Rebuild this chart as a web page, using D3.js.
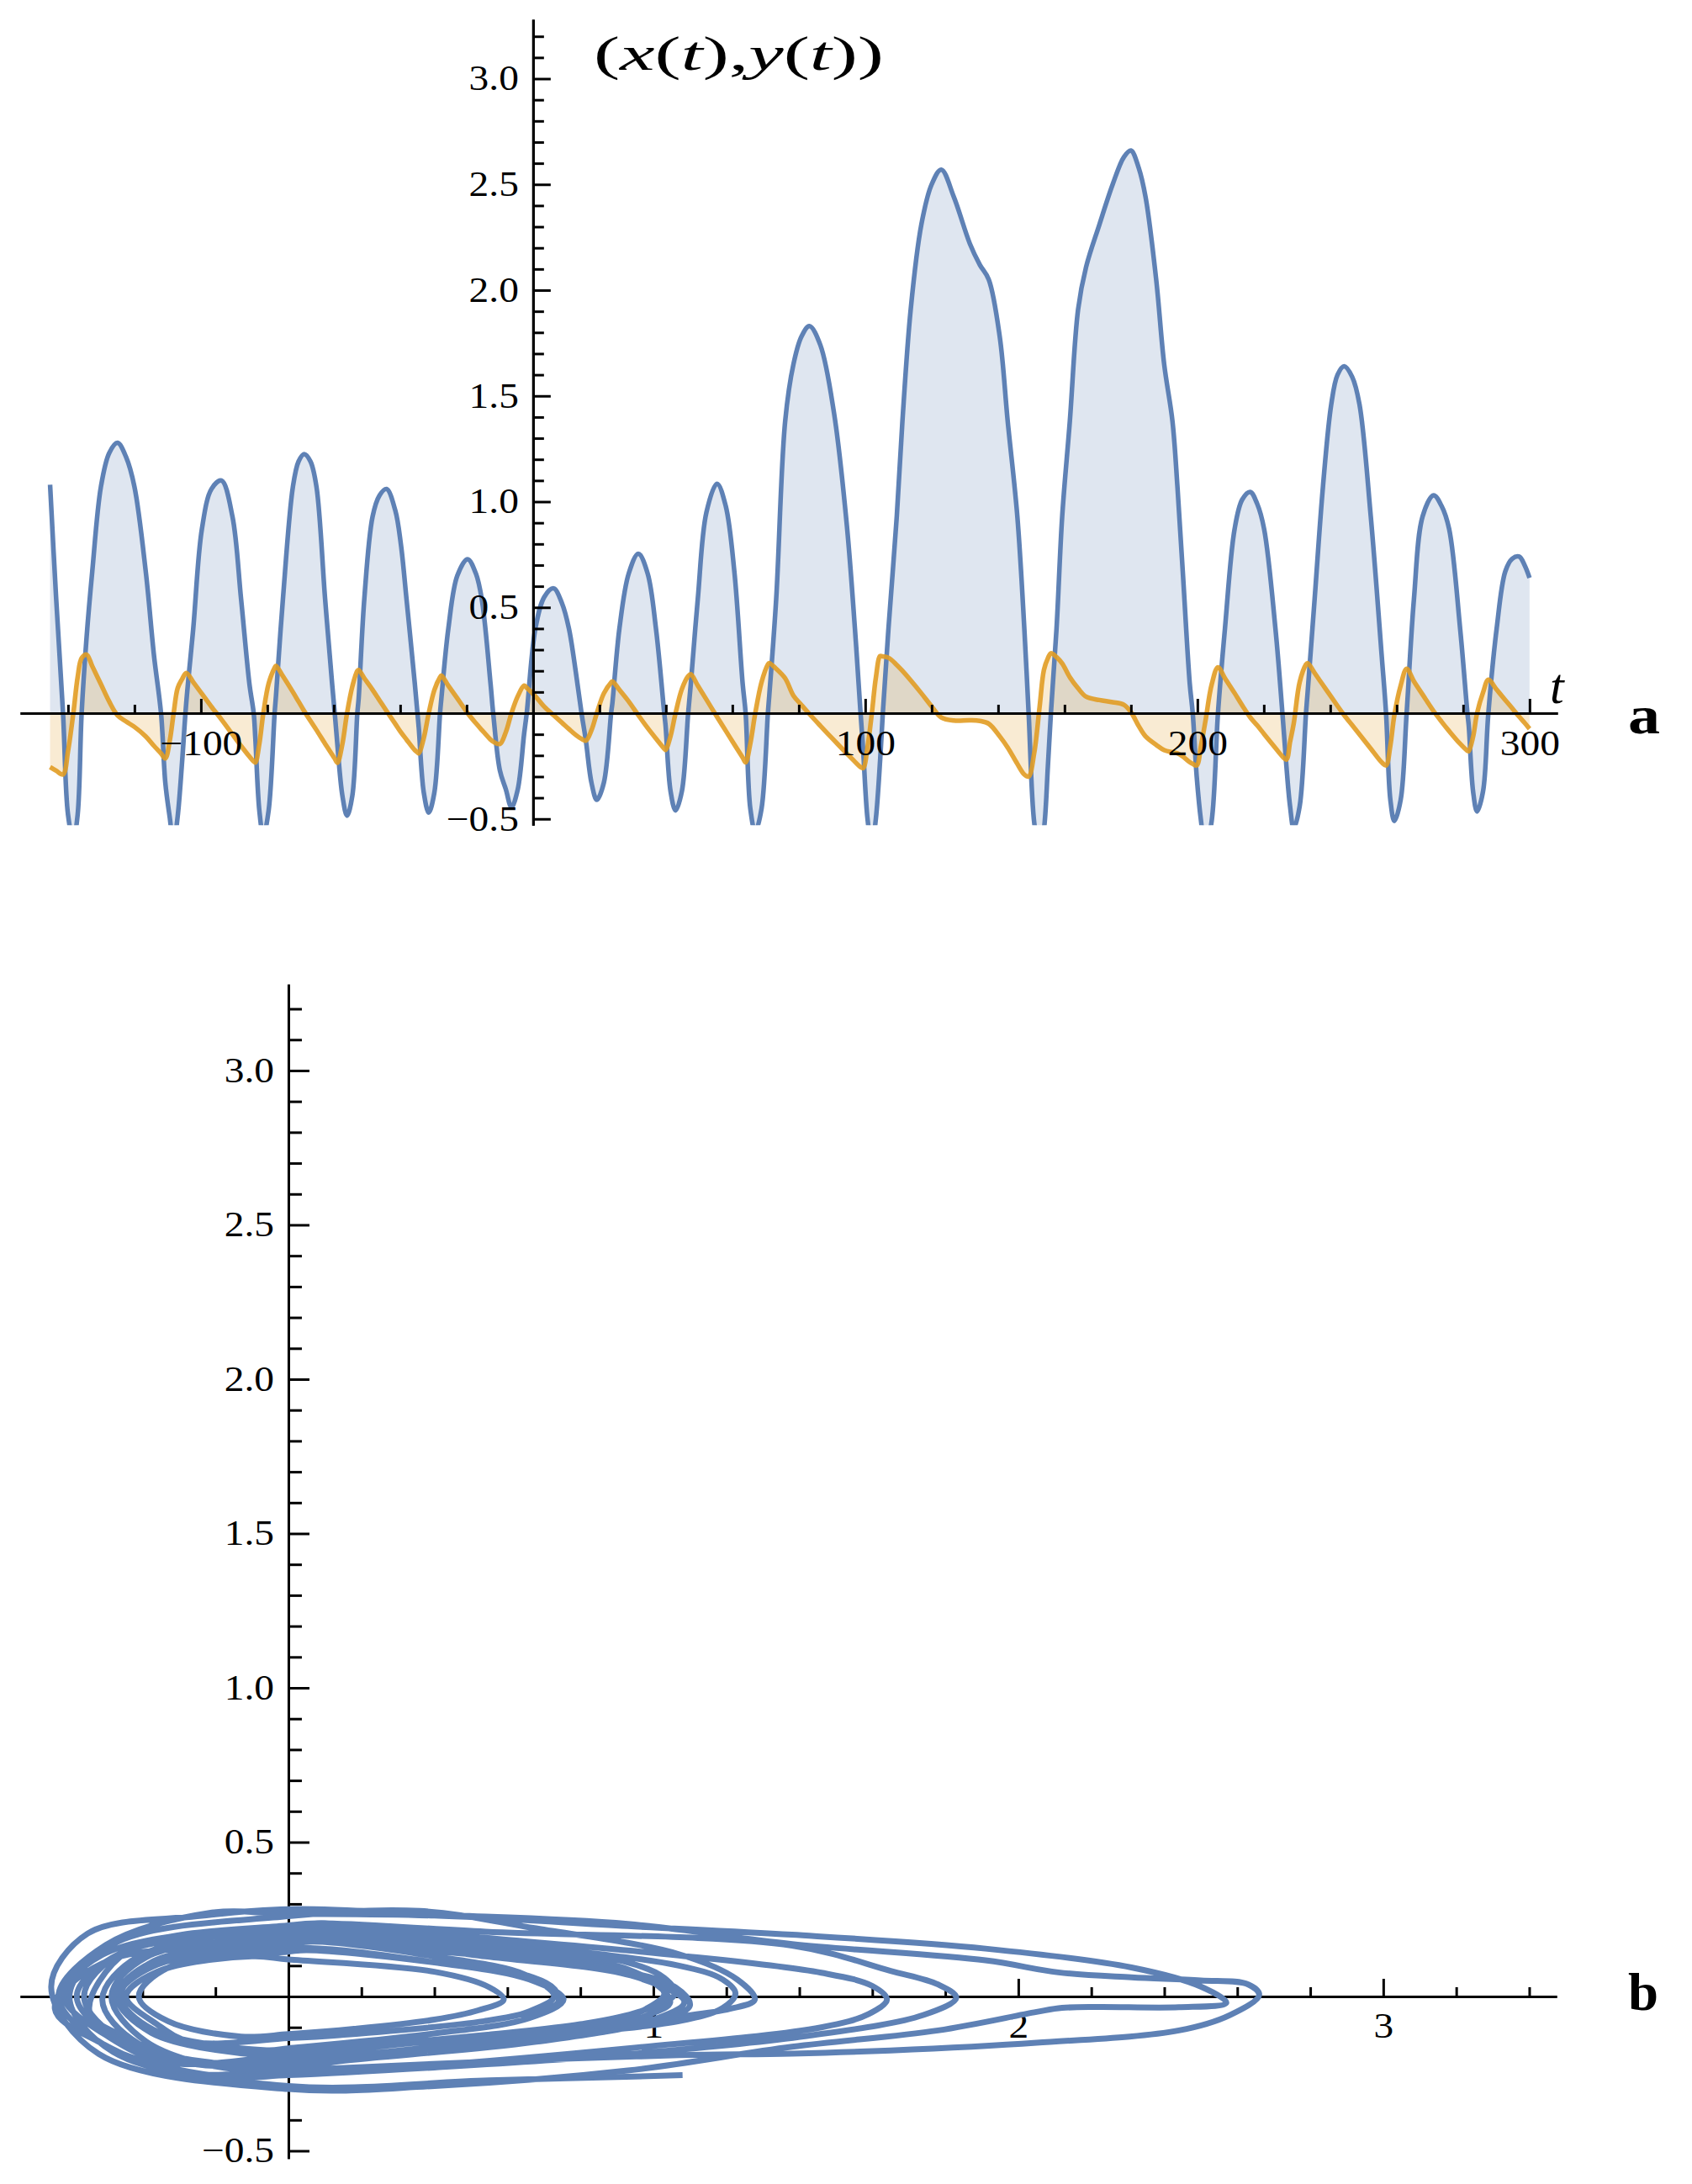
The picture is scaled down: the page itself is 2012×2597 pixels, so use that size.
<!DOCTYPE html>
<html><head><meta charset="utf-8">
<script src="https://cdn.jsdelivr.net/npm/d3@7"></script>
<style>body{margin:0;background:#fff}</style>
</head><body>
<svg id="c" width="2012" height="2597" xmlns="http://www.w3.org/2000/svg"></svg>
<script>
// time samples
const T = [-145.4,-143.6,-141.5,-140.0,-138.4,-137.1,-135.9,-134.4,-132.7,-130.1,-127.6,-125.1,-122.5,-120.0,-116.6,-114.1,-112.0,-110.7,-109.4,
-108.2,-107.0,-105.7,-104.4,-102.3,-99.7,-96.8,-93.8,-90.5,-87.9,-85.4,-84.1,-83.6,-82.4,
-81.2,-79.6,-77.8,-77.4,-75.3,-72.3,-70.6,-68.9,-67.0,-65.2,-62.6,-60.5,-59.7,-58.9,-57.4,
-56.0,-54.4,-52.9,-52.5,-50.8,-48.3,-46.2,-44.1,-41.5,-39.8,-38.1,-35.6,-34.8,-34.4,-32.9,
-31.4,-29.7,-28.0,-27.6,-25.5,-22.8,-19.7,-17.2,-15.4,-12.8,-12.0,-10.0,-8.2,
-6.5,-4.6,-2.7,-1.9,0.7,3.4,6.2,8.7,10.8,13.0,14.6,15.9,17.6,
19.2,21.3,23.5,23.9,26.0,28.8,31.7,34.5,37.0,39.5,39.9,41.4,
42.9,44.8,46.7,47.5,49.6,52.2,55.4,58.0,60.6,63.1,64.0,65.4,
66.9,68.8,70.7,71.1,73.2,75.9,78.4,80.8,83.2,86.5,90.6,94.4,96.9,98.6,99.4,100.7,
102.0,103.2,104.5,105.3,107.0,109.5,111.2,113.7,116.9,120.0,122.9,126.7,131.5,134.5,137.2,140.5,142.9,145.8,147.9,149.2,150.9,
152.5,153.8,155.0,155.9,157.6,159.3,161.6,164.1,166.5,170.5,174.5,177.9,180.0,182.3,184.4,187.6,190.0,192.5,194.0,195.6,197.7,198.6,199.8,201.1,
202.4,204.3,206.2,208.3,211.2,213.5,215.9,218.0,220.1,223.5,225.6,226.8,227.9,
229.0,230.8,232.7,233.2,235.3,237.8,240.3,242.2,244.2,246.6,248.8,252.2,255.5,256.8,258.1,
259.3,261.2,263.0,265.2,267.8,271.1,273.5,275.8,279.1,281.3,281.7,283.0,
284.2,286.0,287.6,290.1,292.7,294.8,296.9,298.5,300.0];
// x(t) (blue)
const X = [1.08,0.55,0.0,-0.48,-0.60,-0.48,0.0,0.36,0.67,1.07,1.23,1.278,1.21,1.07,0.67,0.27,0.0,-0.33,-0.49,
-0.615,-0.49,-0.24,0.05,0.40,0.87,1.06,1.10,0.93,0.54,0.14,0.0,-0.12,-0.46,
-0.58,-0.46,0.0,0.08,0.54,1.07,1.19,1.225,1.19,1.07,0.54,0.14,0.0,-0.15,-0.39,
-0.485,-0.39,0.0,0.07,0.54,0.93,1.03,1.06,0.96,0.80,0.54,0.14,0.0,-0.07,-0.375,
-0.47,-0.375,0.0,0.07,0.40,0.65,0.728,0.66,0.536,0.14,0.0,-0.27,-0.36,
-0.445,-0.36,-0.10,0.0,0.40,0.55,0.59,0.52,0.40,0.18,0.0,-0.13,-0.33,
-0.41,-0.33,0.0,0.05,0.40,0.66,0.754,0.66,0.40,0.0,-0.06,-0.37,
-0.46,-0.37,0.0,0.14,0.54,0.95,1.085,0.98,0.67,0.14,0.0,-0.45,
-0.56,-0.45,0.0,0.08,0.54,1.38,1.65,1.78,1.83,1.74,1.42,0.90,0.40,0.0,-0.18,-0.50,
-0.63,-0.50,-0.22,0.0,0.40,0.93,1.38,1.91,2.31,2.50,2.57,2.44,2.22,2.12,2.05,1.78,1.38,0.93,0.40,0.0,-0.52,
-0.65,-0.55,-0.25,0.0,0.40,0.93,1.38,1.91,2.11,2.31,2.50,2.63,2.66,2.58,2.44,2.05,1.65,1.38,1.07,0.67,0.14,0.0,-0.30,-0.51,
-0.64,-0.51,0.0,0.40,0.87,1.01,1.046,0.99,0.87,0.40,0.0,-0.25,-0.44,
-0.545,-0.44,0.0,0.10,0.54,1.07,1.46,1.60,1.64,1.59,1.46,0.93,0.27,0.0,-0.41,
-0.51,-0.41,0.0,0.54,0.93,1.03,0.98,0.87,0.40,0.0,-0.06,-0.37,
-0.465,-0.37,0.0,0.40,0.67,0.73,0.74,0.70,0.64];
// y(t) (orange)
const Y = [-0.255,-0.272,-0.29,-0.18,0.0,0.17,0.26,0.277,0.222,0.137,0.055,-0.01,-0.04,-0.065,-0.11,-0.155,-0.19,-0.214,-0.133,
0.0,0.118,0.16,0.19,0.147,0.092,0.03,-0.03,-0.10,-0.155,-0.205,-0.228,-0.233,-0.145,
0.0,0.14,0.215,0.224,0.175,0.10,0.055,0.01,-0.037,-0.08,-0.145,-0.196,-0.215,-0.235,-0.146,
0.0,0.127,0.20,0.204,0.165,0.11,0.06,0.01,-0.05,-0.09,-0.125,-0.175,-0.185,-0.19,-0.118,
0.0,0.11,0.17,0.178,0.13,0.07,0.0,-0.048,-0.08,-0.125,-0.135,-0.146,-0.09,
0.0,0.08,0.13,0.12,0.08,0.03,-0.01,-0.045,-0.075,-0.105,-0.122,-0.13,-0.08,
0.0,0.093,0.145,0.15,0.11,0.055,-0.01,-0.07,-0.12,-0.168,-0.174,-0.108,
0.0,0.114,0.175,0.184,0.13,0.064,-0.018,-0.083,-0.148,-0.21,-0.233,-0.145,
0.0,0.147,0.23,0.237,0.21,0.165,0.083,0.039,-0.004,-0.06,-0.128,-0.19,-0.23,-0.255,-0.26,-0.16,
0.0,0.167,0.27,0.268,0.262,0.228,0.20,0.155,0.094,0.032,-0.02,-0.035,-0.034,-0.037,-0.05,-0.11,-0.163,-0.24,-0.29,-0.30,-0.186,
0.03,0.204,0.26,0.283,0.265,0.235,0.17,0.117,0.078,0.062,0.052,0.039,0.005,-0.06,-0.11,-0.15,-0.175,-0.185,-0.19,-0.205,-0.232,-0.24,-0.247,-0.153,
-0.04,0.135,0.217,0.165,0.095,0.037,-0.02,-0.058,-0.099,-0.165,-0.205,-0.22,-0.136,
-0.05,0.147,0.23,0.237,0.19,0.133,0.077,0.034,-0.01,-0.057,-0.10,-0.168,-0.233,-0.247,-0.153,
-0.01,0.13,0.21,0.15,0.088,0.01,-0.04,-0.085,-0.145,-0.178,-0.18,-0.112,
0.0,0.098,0.158,0.111,0.062,0.023,-0.017,-0.046,-0.074];

const aXMajor = [-100,100,200,300];
const aXMinor = [-140,-120,-80,-60,-40,-20,20,40,60,80,120,140,160,180,220,240,260,280];
const yMajor = [-0.5,0.5,1.0,1.5,2.0,2.5,3.0];
const yMinor = [-0.4,-0.3,-0.2,-0.1,0.1,0.2,0.3,0.4,0.6,0.7,0.8,0.9,1.1,1.2,1.3,1.4,1.6,1.7,1.8,1.9,2.1,2.2,2.3,2.4,2.6,2.7,2.8,2.9,3.1,3.2];
const bXMajor = [1,2,3];
const bXMinor = [-0.6,-0.4,-0.2,0.2,0.4,0.6,0.8,1.2,1.4,1.6,1.8,2.2,2.4,2.6,2.8,3.2,3.4];

const BLUE = "#5E81B5", ORANGE = "#E19C24";
const FONT = "'Liberation Serif','Times New Roman',Times,serif";
const svg = d3.select("#c");
const idx = d3.range(T.length);
const CURVE = d3.curveCatmullRom.alpha(0.5);

function styleAxis(g, labels){
  g.attr("font-family", FONT).attr("font-size", 42);
  g.select(".domain").attr("stroke","#000").attr("stroke-width",3);
  g.selectAll(".tick line").attr("stroke","#000").attr("stroke-width",3);
  if(labels) g.selectAll(".tick text").attr("fill","#000").attr("transform","scale(1.13,1)");
}

// ---------- Panel a ----------
const xA = d3.scaleLinear().domain([-154.4, 308.4]).range([24, 1852]);
const yA = d3.scaleLinear().domain([-0.53, 3.28]).range([981.3, 23.1]);

svg.append("defs").append("clipPath").attr("id","clipA")
  .append("rect").attr("x",0).attr("y",yA.range()[1]).attr("width",2012).attr("height",yA.range()[0]-yA.range()[1]);

const gA = svg.append("g");
const areaA = (arr) => d3.area().x(i=>xA(T[i])).y0(yA(0)).y1(i=>yA(arr[i])).curve(CURVE);
const lineA = (arr) => d3.line().x(i=>xA(T[i])).y(i=>yA(arr[i])).curve(CURVE);
const plotA = gA.append("g").attr("clip-path","url(#clipA)");
plotA.append("path").attr("d", areaA(X)(idx)).attr("fill",BLUE).attr("fill-opacity",0.2);
plotA.append("path").attr("d", areaA(Y)(idx)).attr("fill",ORANGE).attr("fill-opacity",0.2);

// axes a
gA.append("g").attr("transform",`translate(0,${yA(0)})`)
  .call(d3.axisBottom(xA).tickValues(aXMinor).tickSize(-10).tickSizeOuter(0).tickFormat(""))
  .call(g=>styleAxis(g,false));
gA.append("g").attr("transform",`translate(0,${yA(0)})`)
  .call(d3.axisBottom(xA).tickValues(aXMajor).tickSize(-17).tickSizeOuter(0).tickPadding(20).tickFormat(d3.format("d")))
  .call(g=>styleAxis(g,true));
gA.append("g").attr("transform",`translate(${xA(0)},0)`)
  .call(d3.axisLeft(yA).tickValues(yMinor).tickSize(-13).tickSizeOuter(0).tickFormat(""))
  .call(g=>styleAxis(g,false));
gA.append("g").attr("transform",`translate(${xA(0)},0)`)
  .call(d3.axisLeft(yA).tickValues(yMajor).tickSize(-21).tickSizeOuter(0).tickPadding(15).tickFormat(d3.format(".1f")))
  .call(g=>styleAxis(g,true));

plotA.append("path").attr("d", lineA(X)(idx)).attr("fill","none").attr("stroke",BLUE).attr("stroke-width",5.5).attr("stroke-linejoin","round");
plotA.append("path").attr("d", lineA(Y)(idx)).attr("fill","none").attr("stroke",ORANGE).attr("stroke-opacity",0.9).attr("stroke-width",5.5).attr("stroke-linejoin","round");

// title and labels a
const title = svg.append("text").attr("x",706).attr("y",83).attr("font-family",FONT).attr("font-size",58).attr("fill","#000")
  .attr("textLength",345).attr("lengthAdjust","spacingAndGlyphs");
[["(",false],["x",true],["(",false],["t",true],["),",false],["y",true],["(",false],["t",true],["))",false]].forEach(([s,it])=>{
  title.append("tspan").text(s).attr("font-style", it?"italic":"normal");
});
svg.append("text").attr("x",1843).attr("y",836).attr("font-family",FONT).attr("font-size",60).attr("font-style","italic").text("t");
svg.append("text").attr("x",1936).attr("y",872).attr("font-family",FONT).attr("font-size",64).attr("font-weight","bold")
  .attr("textLength",38).attr("lengthAdjust","spacingAndGlyphs").text("a");

// ---------- Panel b ----------
const xB = d3.scaleLinear().domain([-0.735, 3.475]).range([24, 1851]);
const yB = d3.scaleLinear().domain([-0.525, 3.28]).range([2566.7, 1170.2]);
const gB = svg.append("g");
gB.append("g").attr("transform",`translate(0,${yB(0)})`)
  .call(d3.axisBottom(xB).tickValues(bXMinor).tickSize(-11).tickSizeOuter(0).tickFormat(""))
  .call(g=>styleAxis(g,false));
gB.append("g").attr("transform",`translate(0,${yB(0)})`)
  .call(d3.axisBottom(xB).tickValues(bXMajor).tickSize(-21).tickSizeOuter(0).tickPadding(19).tickFormat(d3.format("d")))
  .call(g=>styleAxis(g,true));
gB.append("g").attr("transform",`translate(${xB(0)},0)`)
  .call(d3.axisLeft(yB).tickValues(yMinor).tickSize(-16).tickSizeOuter(0).tickFormat(""))
  .call(g=>styleAxis(g,false));
gB.append("g").attr("transform",`translate(${xB(0)},0)`)
  .call(d3.axisLeft(yB).tickValues(yMajor).tickSize(-25).tickSizeOuter(0).tickPadding(15).tickFormat(d3.format(".1f")))
  .call(g=>styleAxis(g,true));

const lineB = d3.line().x(i=>xB(X[i])).y(i=>yB(Y[i])).curve(CURVE);
gB.append("path").attr("d", lineB(idx)).attr("fill","none").attr("stroke",BLUE).attr("stroke-width",7).attr("stroke-linejoin","round");

svg.append("text").attr("x",1936).attr("y",2390).attr("font-family",FONT).attr("font-size",64).attr("font-weight","bold")
  .attr("textLength",36).attr("lengthAdjust","spacingAndGlyphs").text("b");
</script>
</body></html>
